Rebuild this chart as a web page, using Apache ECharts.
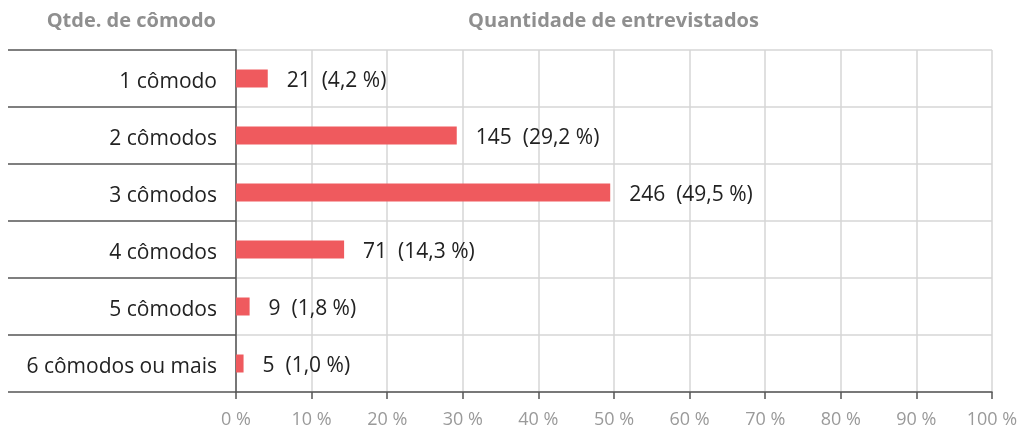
<!DOCTYPE html>
<html>
<head>
<meta charset="utf-8">
<script src="https://cdn.jsdelivr.net/npm/echarts@6/dist/echarts.min.js"></script>
<style>
  html, body { margin: 0; padding: 0; background: #fff; }
  #chart { width: 1021px; height: 430px; }
</style>
</head>
<body>
<div id="chart"></div>
<script>
// Number of rooms per dwelling among respondents
const categories = ['1 cômodo', '2 cômodos', '3 cômodos', '4 cômodos', '5 cômodos', '6 cômodos ou mais'];
const counts = [21, 145, 246, 71, 9, 5];
const percents = [4.2, 29.2, 49.5, 14.3, 1.8, 1.0];
const headerLeft = 'Qtde. de cômodo';
const headerRight = 'Quantidade de entrevistados';

const FONT = '"Open Sans", Lato, sans-serif';
const fmtPct = v => v.toFixed(1).replace('.', ',');

const chart = echarts.init(document.getElementById('chart'), null, { renderer: 'canvas' });

chart.setOption({
  animation: false,
  backgroundColor: '#ffffff',
  textStyle: { fontFamily: FONT },
  grid: { left: 236, right: 29, top: 50, bottom: 38, containLabel: false },
  graphic: [
    {
      type: 'text', x: 216, y: 11,
      style: { text: headerLeft, textAlign: 'right', textVerticalAlign: 'top',
               fontFamily: FONT, fontSize: 20, fontWeight: 'bold', fill: '#8f8f8f' }
    },
    {
      type: 'text', x: 613.5, y: 11,
      style: { text: headerRight, textAlign: 'center', textVerticalAlign: 'top',
               fontFamily: FONT, fontSize: 20, fontWeight: 'bold', fill: '#8f8f8f' }
    }
  ],
  xAxis: {
    type: 'value',
    min: 0, max: 100, interval: 10,
    axisLine: { show: true, lineStyle: { color: '#555', width: 1.5 } },
    axisTick: { show: true, length: 7, lineStyle: { color: '#555', width: 1.5 } },
    splitLine: { show: true, lineStyle: { color: '#d6d6d6', width: 1.5 } },
    axisLabel: {
      formatter: '{value} %', margin: 19,
      fontFamily: FONT, fontSize: 18, color: '#9a9a9a'
    }
  },
  yAxis: {
    type: 'category',
    data: categories,
    inverse: true,
    boundaryGap: true,
    axisLine: { show: true, lineStyle: { color: '#555', width: 1.5 } },
    axisTick: { show: true, length: 228, lineStyle: { color: '#555', width: 1.5 } },
    splitLine: { show: true, lineStyle: { color: '#d6d6d6', width: 1.5 } },
    axisLabel: {
      margin: 19,
      formatter: v => '{c|' + v + '}',
      rich: { c: { fontFamily: FONT, fontSize: 21, color: '#222', padding: [8, 0, 0, 0] } }
    }
  },
  series: [{
    type: 'bar',
    data: percents,
    barWidth: 18,
    itemStyle: { color: '#ef5a5e' },
    label: {
      show: true,
      position: 'right',
      distance: 19,
      offset: [0, 3],
      fontFamily: FONT,
      fontSize: 21,
      color: '#222',
      formatter: p => counts[p.dataIndex] + '  (' + fmtPct(p.value) + ' %)'
    }
  }]
});
</script>
</body>
</html>
